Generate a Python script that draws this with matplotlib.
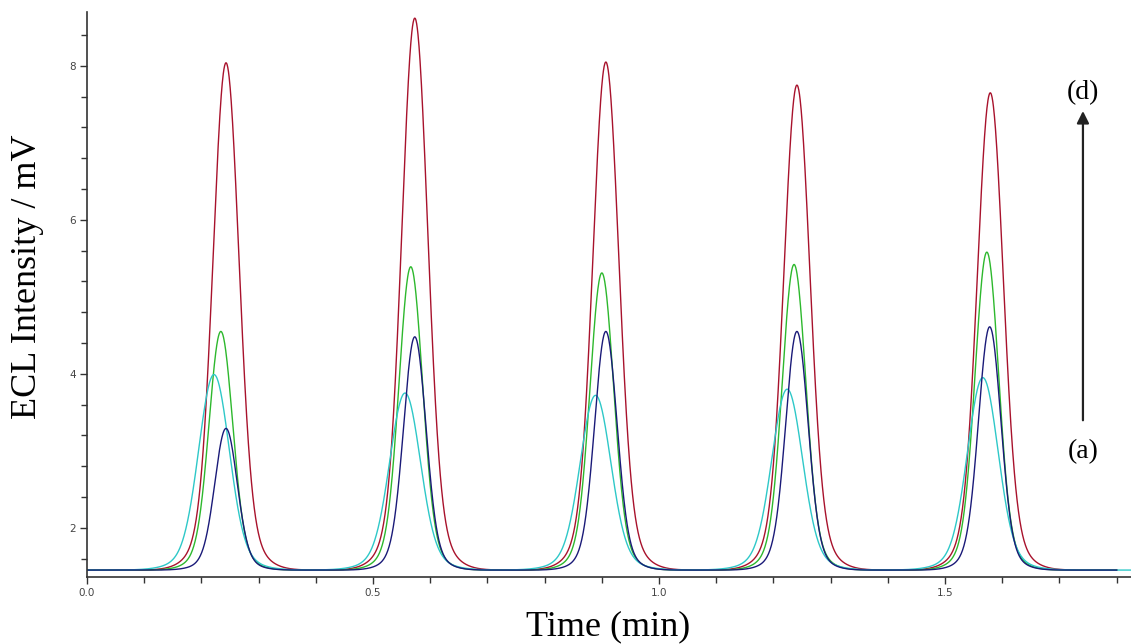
import matplotlib.pyplot as plt
import numpy as np
from matplotlib.ticker import MultipleLocator

# peak parameters (time in min, height in mV)
baseline = 1.45
red_times = [0.243, 0.573, 0.907, 1.241, 1.579]
red_heights = [8.04, 8.62, 8.05, 7.75, 7.65]
green_times = [0.234, 0.566, 0.900, 1.236, 1.573]
green_heights = [4.55, 5.39, 5.31, 5.42, 5.58]
navy_times = [0.243, 0.573, 0.907, 1.241, 1.578]
navy_heights = [3.29, 4.48, 4.55, 4.55, 4.61]
cyan_times = [0.222, 0.556, 0.889, 1.224, 1.566]
cyan_heights = [3.99, 3.75, 3.72, 3.80, 3.95]
widths = {'red': 0.022, 'green': 0.020, 'navy': 0.019, 'cyan': 0.026}

x_ticks = [0.0, 0.5, 1.0, 1.5]
x_labels = ['0.0', '0.5', '1.0', '1.5']
y_ticks = [2, 4, 6, 8]


def trace(t, times, heights, s):
    y = np.full_like(t, baseline)
    for t0, h in zip(times, heights):
        d = t - t0
        shape = 0.9 * np.exp(-0.5 * (d / s) ** 2) + 0.1 * np.exp(-0.5 * (d / (1.9 * s)) ** 2)
        y += (h - baseline) * shape
    return y


plt.switch_backend('AGG')
fig = plt.figure(figsize=(11.31, 6.44), dpi=100)
ax = fig.add_axes([87 / 1131, 1 - 577 / 644, 1 - 87 / 1131, (577 - 12) / 644])

t = np.linspace(0, 1.80, 3000)
t_long = np.linspace(0, 1.83, 3000)
ax.plot(t, trace(t, red_times, red_heights, widths['red']), color='#a8122c', lw=1.0)
ax.plot(t, trace(t, green_times, green_heights, widths['green']), color='#2db82d', lw=1.0)
ax.plot(t_long, trace(t_long, cyan_times, cyan_heights, widths['cyan']), color='#2ec8c8', lw=1.0)
ax.plot(t, trace(t, navy_times, navy_heights, widths['navy']), color='#1a1a78', lw=1.0)

ax.set_xlim(0, 1.825)
ax.set_ylim(1.36, 8.70)
ax.spines['top'].set_visible(False)
ax.spines['right'].set_visible(False)
ax.spines['left'].set_color('#333333')
ax.spines['bottom'].set_color('#333333')
ax.spines['left'].set_linewidth(1.2)
ax.spines['bottom'].set_linewidth(1.2)

ax.set_xticks(x_ticks)
ax.set_xticklabels(x_labels)
ax.set_yticks(y_ticks)
ax.xaxis.set_minor_locator(MultipleLocator(0.1))
ax.yaxis.set_minor_locator(MultipleLocator(0.4))
ax.tick_params(which='major', direction='out', length=5, width=1, color='#333333',
               labelsize=7.5, labelcolor='#444444', pad=3)
ax.tick_params(which='minor', direction='out', length=4, width=1, color='#333333')

fig.text(608 / 1131, 1 - 627 / 644, 'Time (min)', family='Liberation Serif',
         fontsize=26, ha='center', va='center')
fig.text(28 / 1131, 1 - 277 / 644, 'ECL Intensity / mV', family='Liberation Serif',
         fontsize=26, ha='center', va='center', rotation=90)

ax.annotate('', xy=(1.741, 7.45), xytext=(1.741, 3.36),
            arrowprops=dict(arrowstyle='-|>', color='#222222', lw=1.6, mutation_scale=18))
ax.text(1.741, 7.65, '(d)', family='Liberation Serif', fontsize=20, ha='center', va='center')
ax.text(1.741, 2.99, '(a)', family='Liberation Serif', fontsize=20, ha='center', va='center')

plt.savefig('out.png', dpi=100)
